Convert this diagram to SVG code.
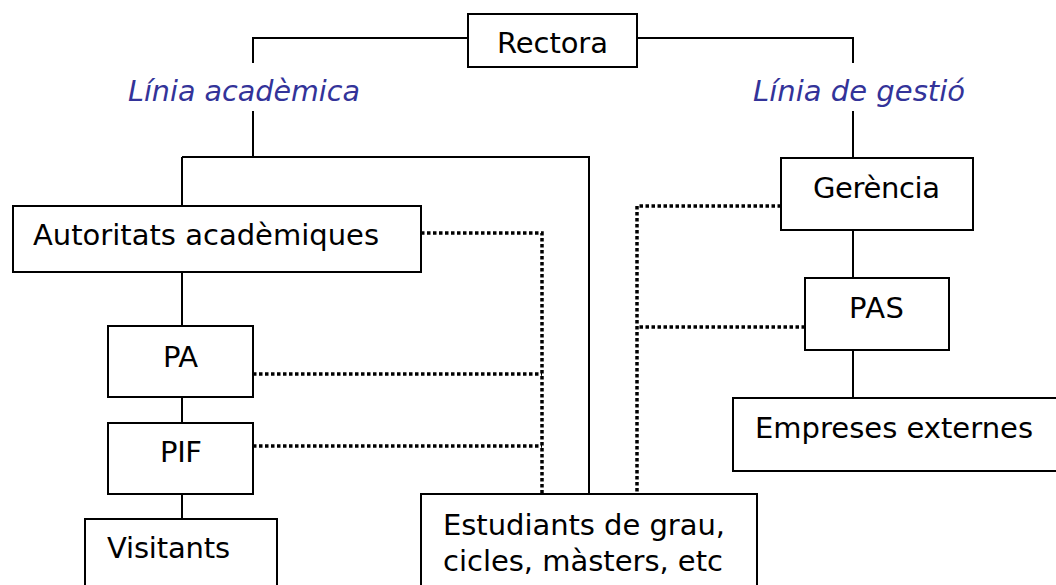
<svg xmlns="http://www.w3.org/2000/svg" width="1056" height="585" viewBox="0 0 1056 585">
<style>
.box{fill:#fff;stroke:#000;stroke-width:2}
.ln{fill:none;stroke:#000;stroke-width:2}
.dot{fill:none;stroke:#000;stroke-width:3.5;stroke-dasharray:3.5 2.5}
.t{font-family:"DejaVu Sans",Verdana,sans-serif;font-size:29px;fill:#000}
.lab{font-family:"DejaVu Sans",Verdana,sans-serif;font-size:28px;font-style:italic;fill:#333399}
</style>
<rect width="1056" height="585" fill="#fff"/>
<g id="connectors">
<path class="ln" d="M468,38 H253 V63 M637,38 H853 V63"/>
<path class="ln" d="M253,111 V157 M182,157 H589 V494 M182,157 V206 M182,272 V326 M182,397 V423 M182,494 V519"/>
<path class="ln" d="M853,111 V158 M853,230 V278 M853,350 V398"/>
<path class="dot" d="M421,233 H542 V494 M253,374 H542 M253,446 H542"/>
<path class="dot" d="M781,206 H637 V494 M805,327 H637"/>
</g>
<g id="labels">
<text class="lab" x="128" y="101" textLength="232" lengthAdjust="spacingAndGlyphs">Línia acadèmica</text>
<text class="lab" x="753" y="101" textLength="212" lengthAdjust="spacingAndGlyphs">Línia de gestió</text>
</g>
<g id="rectora"><rect class="box" x="468" y="14" width="169" height="53"/><text class="t" x="497" y="53" textLength="111">Rectora</text></g>
<g id="autoritats"><rect class="box" x="13" y="206" width="408" height="66"/><text class="t" x="33" y="245" textLength="346">Autoritats acadèmiques</text></g>
<g id="pa"><rect class="box" x="108" y="326" width="145" height="71"/><text class="t" x="163" y="367" textLength="35">PA</text></g>
<g id="pif"><rect class="box" x="108" y="423" width="145" height="71"/><text class="t" x="160" y="462" textLength="42">PIF</text></g>
<g id="visitants"><rect class="box" x="85" y="519" width="192" height="80"/><text class="t" x="107" y="558" textLength="123">Visitants</text></g>
<g id="estudiants"><rect class="box" x="421" y="494" width="336" height="104"/><text class="t" x="443" y="535" textLength="282">Estudiants de grau,</text><text class="t" x="443" y="571" textLength="280">cicles, màsters, etc</text></g>
<g id="gerencia"><rect class="box" x="781" y="158" width="192" height="72"/><text class="t" x="813" y="198" textLength="127">Gerència</text></g>
<g id="pas"><rect class="box" x="805" y="278" width="144" height="72"/><text class="t" x="849" y="318" textLength="55">PAS</text></g>
<g id="empreses"><rect class="box" x="733" y="398" width="330" height="73"/><text class="t" x="755" y="438" textLength="278">Empreses externes</text></g>
</svg>
